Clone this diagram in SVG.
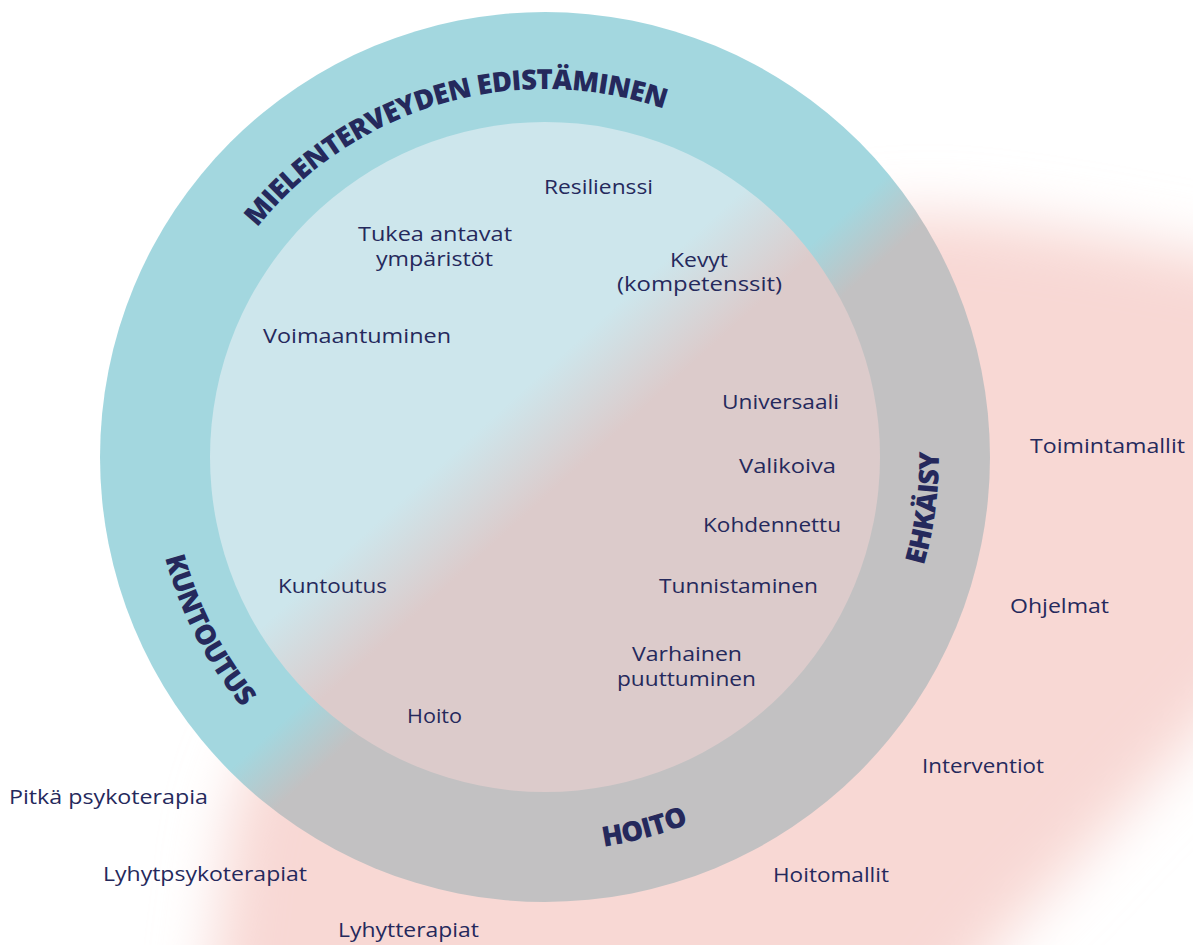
<svg xmlns="http://www.w3.org/2000/svg" width="1193" height="945" viewBox="0 0 1193 945">
<style>
.t{font-family:"Open Sans","Noto Sans",sans-serif;font-weight:500;font-size:19.5px;fill:#25295c}
.b{font-family:"Open Sans","Noto Sans",sans-serif;font-weight:800;font-size:27.5px;fill:#25295c;letter-spacing:-0.6px}
</style>
<defs>
<filter id="blur" filterUnits="userSpaceOnUse" x="-300" y="-300" width="1900" height="1600">
<feGaussianBlur stdDeviation="30"/>
</filter>
<linearGradient id="gOuter" gradientUnits="userSpaceOnUse" x1="486.5" y1="537.2" x2="526.7" y2="581.7">
<stop offset="0" stop-color="#a3d7df"/>
<stop offset="1" stop-color="#c2c1c2"/>
</linearGradient>
<linearGradient id="gInner" gradientUnits="userSpaceOnUse" x1="429.4" y1="474.2" x2="493.2" y2="544.6">
<stop offset="0" stop-color="#cde6ec"/>
<stop offset="1" stop-color="#dccbcb"/>
</linearGradient>
<path id="arcTop" d="M 177 457 A 368 368 0 0 1 913 457"/>
<path id="arcLeft" d="M 158.0 388.8 A 393 393 0 0 0 410.6 826.3"/>
<path id="arcRight" d="M 742 798.2 A 394 394 0 0 0 742 115.8"/>
<path id="arcBottom" d="M 348 798.2 A 394 394 0 0 0 886.2 654"/>
</defs>

<g id="background-blob">
<path filter="url(#blur)" fill="#f8d8d4" d="M 205 1030 L 226 860 C 235 720 400 500 600 330 C 750 225 880 210 960 216 C 1060 226 1150 244 1260 266 L 1420 300 L 1420 480 L 1228 700 C 1170 765 1120 815 1070 870 L 1015 925 L 930 1030 Z"/>
</g>

<g id="outer-ring">
<circle cx="545" cy="457" r="445" fill="url(#gOuter)"/>
</g>
<g id="inner-circle">
<circle cx="545" cy="457" r="335" fill="url(#gInner)"/>
</g>

<g id="ring-labels">
<text class="b"><textPath href="#arcTop" startOffset="473" text-anchor="middle">MIELENTERVEYDEN EDISTÄMINEN</textPath></text>
<text class="b"><textPath href="#arcLeft" startOffset="255" text-anchor="middle">KUNTOUTUS</textPath></text>
<text class="b"><textPath href="#arcRight" startOffset="360" text-anchor="middle">EHKÄISY</textPath></text>
<text class="b"><textPath href="#arcBottom" startOffset="309" text-anchor="middle">HOITO</textPath></text>
</g>

<g id="inner-labels">
<text class="t" x="544" y="194" textLength="109" lengthAdjust="spacingAndGlyphs">Resilienssi</text>
<text class="t" x="358" y="241" textLength="154" lengthAdjust="spacingAndGlyphs">Tukea antavat</text>
<text class="t" x="376" y="266" textLength="117" lengthAdjust="spacingAndGlyphs">ympäristöt</text>
<text class="t" x="263" y="343" textLength="188" lengthAdjust="spacingAndGlyphs">Voimaantuminen</text>
<text class="t" x="670" y="267" textLength="58" lengthAdjust="spacingAndGlyphs">Kevyt</text>
<text class="t" x="617" y="291" textLength="165" lengthAdjust="spacingAndGlyphs">(kompetenssit)</text>
<text class="t" x="722" y="409" textLength="117" lengthAdjust="spacingAndGlyphs">Universaali</text>
<text class="t" x="739" y="473" textLength="97" lengthAdjust="spacingAndGlyphs">Valikoiva</text>
<text class="t" x="703" y="532" textLength="138" lengthAdjust="spacingAndGlyphs">Kohdennettu</text>
<text class="t" x="659" y="593" textLength="159" lengthAdjust="spacingAndGlyphs">Tunnistaminen</text>
<text class="t" x="632" y="661" textLength="110" lengthAdjust="spacingAndGlyphs">Varhainen</text>
<text class="t" x="617" y="686" textLength="139" lengthAdjust="spacingAndGlyphs">puuttuminen</text>
<text class="t" x="278" y="593" textLength="109" lengthAdjust="spacingAndGlyphs">Kuntoutus</text>
<text class="t" x="407" y="723" textLength="55" lengthAdjust="spacingAndGlyphs">Hoito</text>
</g>

<g id="outer-labels">
<text class="t" x="9" y="804" textLength="199" lengthAdjust="spacingAndGlyphs">Pitkä psykoterapia</text>
<text class="t" x="103" y="881" textLength="204" lengthAdjust="spacingAndGlyphs">Lyhytpsykoterapiat</text>
<text class="t" x="338" y="937" textLength="141" lengthAdjust="spacingAndGlyphs">Lyhytterapiat</text>
<text class="t" x="773" y="882" textLength="116" lengthAdjust="spacingAndGlyphs">Hoitomallit</text>
<text class="t" x="922" y="773" textLength="122" lengthAdjust="spacingAndGlyphs">Interventiot</text>
<text class="t" x="1010" y="613" textLength="99" lengthAdjust="spacingAndGlyphs">Ohjelmat</text>
<text class="t" x="1030" y="453" textLength="155" lengthAdjust="spacingAndGlyphs">Toimintamallit</text>
</g>
</svg>
